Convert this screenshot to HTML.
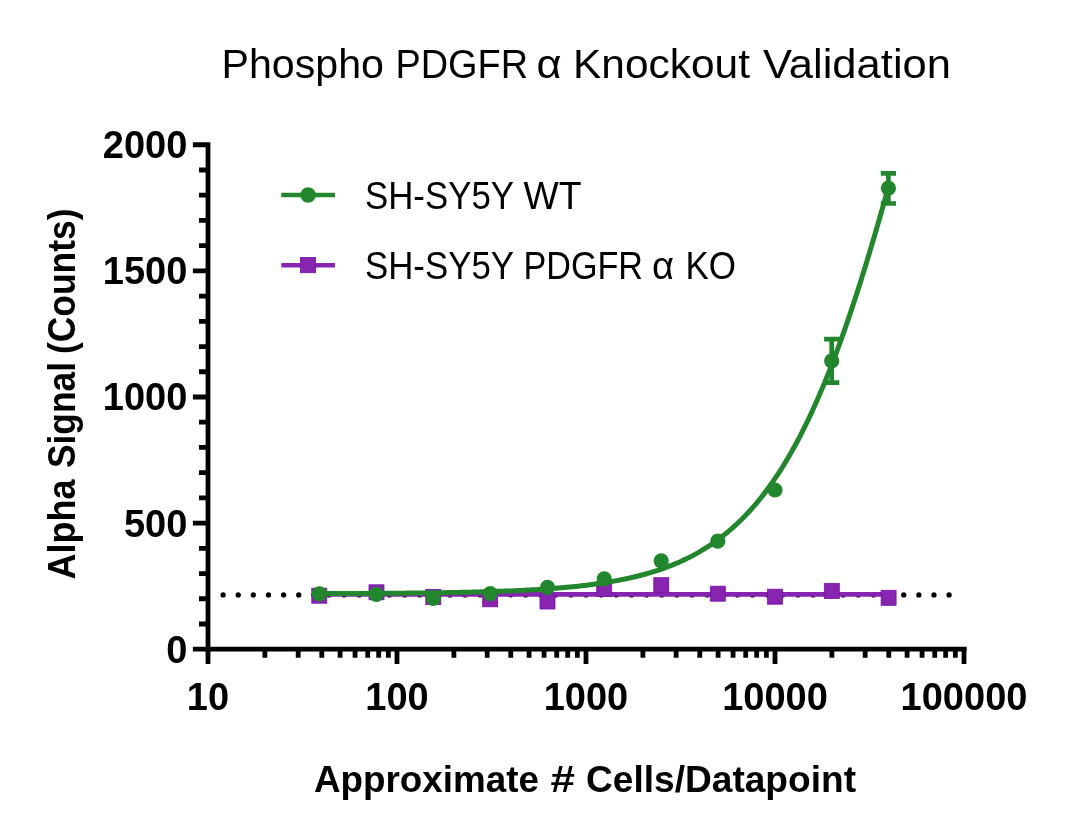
<!DOCTYPE html><html><head><meta charset="utf-8"><title>Phospho PDGFR α Knockout Validation</title><style>html,body{margin:0;padding:0;background:#fff;}svg{display:block;}text{filter:grayscale(1);}</style></head><body>
<svg width="1080" height="839" viewBox="0 0 1080 839">
<rect width="1080" height="839" fill="#fff"/>
<path d="M208.00 142.36V664 M192.9 649.20H966.7 M192.9 649.20H208.0 M199 623.98H208.0 M199 598.76H208.0 M199 573.53H208.0 M199 548.31H208.0 M192.9 523.09H208.0 M199 497.87H208.0 M199 472.65H208.0 M199 447.42H208.0 M199 422.20H208.0 M192.9 396.98H208.0 M199 371.76H208.0 M199 346.54H208.0 M199 321.31H208.0 M199 296.09H208.0 M192.9 270.87H208.0 M199 245.65H208.0 M199 220.43H208.0 M199 195.20H208.0 M199 169.98H208.0 M192.9 144.76H208.0 M208.00 649.20V664 M264.89 649.20V657.7 M298.18 649.20V657.7 M321.79 649.20V657.7 M340.11 649.20V657.7 M355.07 649.20V657.7 M367.72 649.20V657.7 M378.68 649.20V657.7 M388.35 649.20V657.7 M397.00 649.20V664 M397.00 649.20V664 M453.89 649.20V657.7 M487.18 649.20V657.7 M510.79 649.20V657.7 M529.11 649.20V657.7 M544.07 649.20V657.7 M556.72 649.20V657.7 M567.68 649.20V657.7 M577.35 649.20V657.7 M586.00 649.20V664 M586.00 649.20V664 M642.89 649.20V657.7 M676.18 649.20V657.7 M699.79 649.20V657.7 M718.11 649.20V657.7 M733.07 649.20V657.7 M745.72 649.20V657.7 M756.68 649.20V657.7 M766.35 649.20V657.7 M775.00 649.20V664 M775.00 649.20V664 M831.89 649.20V657.7 M865.18 649.20V657.7 M888.79 649.20V657.7 M907.11 649.20V657.7 M922.07 649.20V657.7 M934.72 649.20V657.7 M945.68 649.20V657.7 M955.35 649.20V657.7 M964.00 649.20V664" stroke="#000" stroke-width="4.8" fill="none"/>
<text x="187.3" y="662.70" text-anchor="end" font-family="Liberation Sans, sans-serif" font-weight="bold" font-size="38" fill="#000">0</text>
<text x="187.3" y="536.59" text-anchor="end" font-family="Liberation Sans, sans-serif" font-weight="bold" font-size="38" fill="#000">500</text>
<text x="187.3" y="410.48" text-anchor="end" font-family="Liberation Sans, sans-serif" font-weight="bold" font-size="38" fill="#000">1000</text>
<text x="187.3" y="284.37" text-anchor="end" font-family="Liberation Sans, sans-serif" font-weight="bold" font-size="38" fill="#000">1500</text>
<text x="187.3" y="158.26" text-anchor="end" font-family="Liberation Sans, sans-serif" font-weight="bold" font-size="38" fill="#000">2000</text>
<text x="208.00" y="709.6" text-anchor="middle" font-family="Liberation Sans, sans-serif" font-weight="bold" font-size="38" fill="#000">10</text>
<text x="397.00" y="709.6" text-anchor="middle" font-family="Liberation Sans, sans-serif" font-weight="bold" font-size="38" fill="#000">100</text>
<text x="586.00" y="709.6" text-anchor="middle" font-family="Liberation Sans, sans-serif" font-weight="bold" font-size="38" fill="#000">1000</text>
<text x="775.00" y="709.6" text-anchor="middle" font-family="Liberation Sans, sans-serif" font-weight="bold" font-size="38" fill="#000">10000</text>
<text x="964.00" y="709.6" text-anchor="middle" font-family="Liberation Sans, sans-serif" font-weight="bold" font-size="38" fill="#000">100000</text>
<path d="M223.1 594.9H949.6" stroke="#000" stroke-width="5.3" stroke-linecap="round" stroke-dasharray="0 15.125"/>
<path d="M319.3 594.4H888.4" stroke="#8724B0" stroke-width="4.8"/>
<rect x="311.80" y="588.20" width="15" height="15" fill="#8724B0" stroke="#7612A8" stroke-width="0.8"/>
<rect x="369.00" y="584.80" width="15" height="15" fill="#8724B0" stroke="#7612A8" stroke-width="0.8"/>
<rect x="425.80" y="589.50" width="15" height="15" fill="#8724B0" stroke="#7612A8" stroke-width="0.8"/>
<rect x="482.70" y="591.80" width="15" height="15" fill="#8724B0" stroke="#7612A8" stroke-width="0.8"/>
<rect x="540.00" y="594.00" width="15" height="15" fill="#8724B0" stroke="#7612A8" stroke-width="0.8"/>
<rect x="596.70" y="581.50" width="15" height="15" fill="#8724B0" stroke="#7612A8" stroke-width="0.8"/>
<rect x="653.80" y="577.70" width="15" height="15" fill="#8724B0" stroke="#7612A8" stroke-width="0.8"/>
<rect x="710.30" y="586.20" width="15" height="15" fill="#8724B0" stroke="#7612A8" stroke-width="0.8"/>
<rect x="767.60" y="589.20" width="15" height="15" fill="#8724B0" stroke="#7612A8" stroke-width="0.8"/>
<rect x="824.30" y="583.50" width="15" height="15" fill="#8724B0" stroke="#7612A8" stroke-width="0.8"/>
<rect x="881.10" y="590.30" width="15" height="15" fill="#8724B0" stroke="#7612A8" stroke-width="0.8"/>
<path d="M319.40 593.58 L322.25 593.57 L325.09 593.56 L327.94 593.55 L330.78 593.54 L333.62 593.53 L336.47 593.52 L339.31 593.52 L342.16 593.50 L345.00 593.49 L347.85 593.48 L350.69 593.47 L353.54 593.46 L356.38 593.45 L359.23 593.43 L362.07 593.42 L364.92 593.41 L367.76 593.39 L370.61 593.37 L373.45 593.36 L376.30 593.34 L379.14 593.32 L381.99 593.31 L384.83 593.29 L387.68 593.27 L390.52 593.25 L393.37 593.23 L396.21 593.20 L399.06 593.18 L401.90 593.16 L404.75 593.13 L407.59 593.10 L410.44 593.08 L413.28 593.05 L416.13 593.02 L418.97 592.99 L421.82 592.95 L424.66 592.92 L427.51 592.89 L430.35 592.85 L433.20 592.81 L436.04 592.77 L438.89 592.73 L441.73 592.69 L444.58 592.64 L447.42 592.60 L450.27 592.55 L453.12 592.50 L455.96 592.44 L458.80 592.39 L461.65 592.33 L464.50 592.27 L467.34 592.21 L470.18 592.15 L473.03 592.08 L475.88 592.01 L478.72 591.93 L481.56 591.86 L484.41 591.78 L487.25 591.70 L490.10 591.61 L492.94 591.52 L495.79 591.43 L498.63 591.33 L501.48 591.23 L504.32 591.12 L507.17 591.01 L510.01 590.90 L512.86 590.78 L515.70 590.66 L518.55 590.53 L521.39 590.39 L524.24 590.25 L527.09 590.11 L529.93 589.96 L532.77 589.80 L535.62 589.63 L538.46 589.46 L541.31 589.28 L544.15 589.10 L547.00 588.90 L549.85 588.70 L552.69 588.49 L555.53 588.27 L558.38 588.04 L561.22 587.81 L564.07 587.56 L566.91 587.30 L569.76 587.04 L572.61 586.76 L575.45 586.47 L578.29 586.16 L581.14 585.85 L583.98 585.52 L586.83 585.18 L589.67 584.83 L592.52 584.46 L595.37 584.07 L598.21 583.67 L601.05 583.25 L603.90 582.82 L606.75 582.37 L609.59 581.90 L612.43 581.41 L615.28 580.90 L618.12 580.37 L620.97 579.82 L623.82 579.25 L626.66 578.65 L629.50 578.03 L632.35 577.38 L635.19 576.71 L638.04 576.01 L640.88 575.28 L643.73 574.52 L646.58 573.74 L649.42 572.92 L652.26 572.07 L655.11 571.18 L657.95 570.26 L660.80 569.30 L663.64 568.31 L666.49 567.27 L669.34 566.19 L672.18 565.07 L675.02 563.91 L677.87 562.70 L680.71 561.45 L683.56 560.14 L686.40 558.78 L689.25 557.37 L692.10 555.91 L694.94 554.39 L697.78 552.81 L700.63 551.17 L703.47 549.47 L706.32 547.70 L709.16 545.86 L712.01 543.96 L714.86 541.98 L717.70 539.93 L720.54 537.80 L723.39 535.60 L726.23 533.31 L729.08 530.93 L731.92 528.47 L734.77 525.92 L737.62 523.28 L740.46 520.54 L743.30 517.71 L746.15 514.77 L749.00 511.73 L751.84 508.58 L754.68 505.32 L757.53 501.95 L760.38 498.46 L763.22 494.86 L766.07 491.13 L768.91 487.28 L771.75 483.30 L774.60 479.18 L777.44 474.94 L780.29 470.55 L783.13 466.03 L785.98 461.37 L788.83 456.55 L791.67 451.59 L794.51 446.48 L797.36 441.22 L800.20 435.80 L803.05 430.23 L805.89 424.49 L808.74 418.59 L811.59 412.53 L814.43 406.30 L817.27 399.90 L820.12 393.34 L822.96 386.60 L825.81 379.70 L828.65 372.63 L831.50 365.38 L834.35 357.96 L837.19 350.38 L840.03 342.62 L842.88 334.69 L845.73 326.60 L848.57 318.34 L851.41 309.91 L854.26 301.33 L857.11 292.58 L859.95 283.68 L862.79 274.62 L865.64 265.42 L868.49 256.07 L871.33 246.58 L874.17 236.95 L877.02 227.19 L879.87 217.31 L882.71 207.31 L885.55 197.19 L888.40 186.98" stroke="#22862C" stroke-width="5" fill="none" stroke-linejoin="round"/>
<circle cx="319.4" cy="593.8" r="7.6" fill="#22862C"/>
<circle cx="376.4" cy="594.3" r="7.6" fill="#22862C"/>
<circle cx="433.3" cy="598.5" r="7.6" fill="#22862C"/>
<circle cx="490.3" cy="593.6" r="7.6" fill="#22862C"/>
<circle cx="547.5" cy="587.3" r="7.6" fill="#22862C"/>
<circle cx="604.2" cy="578.9" r="7.6" fill="#22862C"/>
<circle cx="661.2" cy="560.8" r="7.6" fill="#22862C"/>
<circle cx="717.8" cy="541.2" r="7.6" fill="#22862C"/>
<circle cx="775" cy="490" r="7.6" fill="#22862C"/>
<circle cx="831.7" cy="360.8" r="7.6" fill="#22862C"/>
<circle cx="888.4" cy="188.2" r="7.6" fill="#22862C"/>
<path d="M831.7 339.2V382.6M824.10 339.2H839.30M824.10 382.6H839.30" stroke="#22862C" stroke-width="4.7" fill="none"/>
<path d="M888.4 173.3V203.5M880.80 173.3H896.00M880.80 203.5H896.00" stroke="#22862C" stroke-width="4.7" fill="none"/>
<path d="M281.3 195H335" stroke="#22862C" stroke-width="4.4"/><circle cx="308.1" cy="195" r="7.8" fill="#22862C"/>
<path d="M281.3 265.2H335" stroke="#8724B0" stroke-width="4.4"/><rect x="300.4" y="257.5" width="15.2" height="15.2" fill="#8724B0" stroke="#7612A8" stroke-width="0.8"/>
<text x="221.50" y="77.5" font-family="Liberation Sans, sans-serif" font-weight="normal" font-size="41" fill="#000" textLength="162.50" lengthAdjust="spacingAndGlyphs">Phospho</text>
<text x="395.50" y="77.5" font-family="Liberation Sans, sans-serif" font-weight="normal" font-size="41" fill="#000" textLength="132.50" lengthAdjust="spacingAndGlyphs">PDGFR</text>
<text x="536.50" y="77.5" font-family="Liberation Sans, sans-serif" font-weight="normal" font-size="41" fill="#000" textLength="25.00" lengthAdjust="spacingAndGlyphs">α</text>
<text x="573.00" y="77.5" font-family="Liberation Sans, sans-serif" font-weight="normal" font-size="41" fill="#000" textLength="177.00" lengthAdjust="spacingAndGlyphs">Knockout</text>
<text x="763.00" y="77.5" font-family="Liberation Sans, sans-serif" font-weight="normal" font-size="41" fill="#000" textLength="188.00" lengthAdjust="spacingAndGlyphs">Validation</text>
<text x="365.00" y="208.6" font-family="Liberation Sans, sans-serif" font-weight="normal" font-size="38" fill="#000" textLength="149.00" lengthAdjust="spacingAndGlyphs">SH-SY5Y</text>
<text x="523.50" y="208.6" font-family="Liberation Sans, sans-serif" font-weight="normal" font-size="38" fill="#000" textLength="58.00" lengthAdjust="spacingAndGlyphs">WT</text>
<text x="365.00" y="278.7" font-family="Liberation Sans, sans-serif" font-weight="normal" font-size="38" fill="#000" textLength="149.00" lengthAdjust="spacingAndGlyphs">SH-SY5Y</text>
<text x="523.50" y="278.7" font-family="Liberation Sans, sans-serif" font-weight="normal" font-size="38" fill="#000" textLength="119.50" lengthAdjust="spacingAndGlyphs">PDGFR</text>
<text x="652.00" y="278.7" font-family="Liberation Sans, sans-serif" font-weight="normal" font-size="38" fill="#000" textLength="22.00" lengthAdjust="spacingAndGlyphs">α</text>
<text x="685.50" y="278.7" font-family="Liberation Sans, sans-serif" font-weight="normal" font-size="38" fill="#000" textLength="50.50" lengthAdjust="spacingAndGlyphs">KO</text>
<text x="314.00" y="791.8" font-family="Liberation Sans, sans-serif" font-weight="bold" font-size="37.3" fill="#000" textLength="225.00" lengthAdjust="spacingAndGlyphs">Approximate</text>
<text x="550.50" y="791.8" font-family="Liberation Sans, sans-serif" font-weight="bold" font-size="37.3" fill="#000" textLength="24.50" lengthAdjust="spacingAndGlyphs">#</text>
<text x="586.00" y="791.8" font-family="Liberation Sans, sans-serif" font-weight="bold" font-size="37.3" fill="#000" textLength="270.00" lengthAdjust="spacingAndGlyphs">Cells/Datapoint</text>
<text transform="translate(75.0 579.50) rotate(-90)" font-family="Liberation Sans, sans-serif" font-weight="bold" font-size="38" fill="#000" textLength="100.00" lengthAdjust="spacingAndGlyphs">Alpha</text>
<text transform="translate(75.0 468.00) rotate(-90)" font-family="Liberation Sans, sans-serif" font-weight="bold" font-size="38" fill="#000" textLength="106.00" lengthAdjust="spacingAndGlyphs">Signal</text>
<text transform="translate(75.0 354.00) rotate(-90)" font-family="Liberation Sans, sans-serif" font-weight="bold" font-size="38" fill="#000" textLength="145.50" lengthAdjust="spacingAndGlyphs">(Counts)</text>
</svg></body></html>
